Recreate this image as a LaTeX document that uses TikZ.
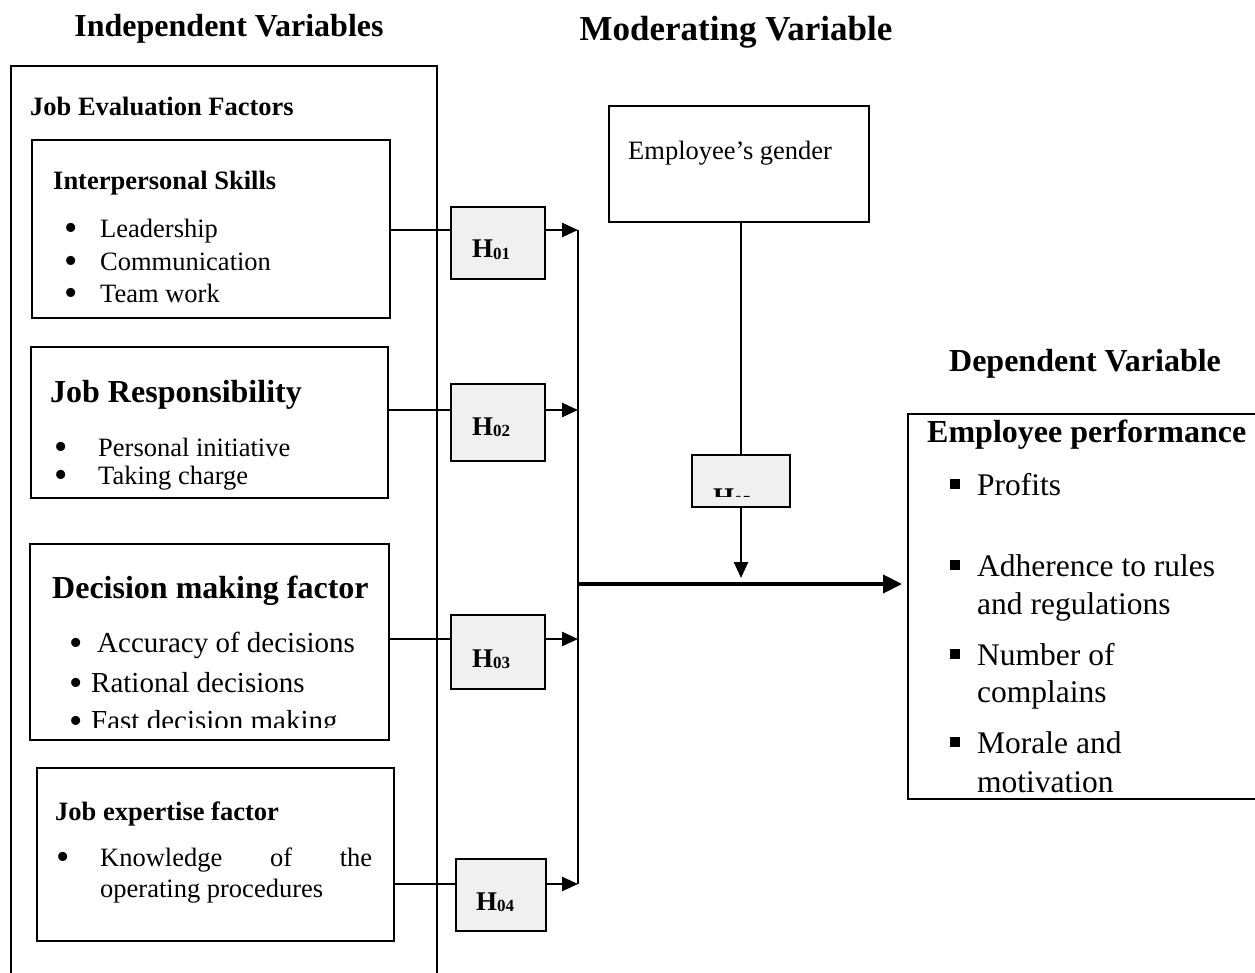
\documentclass[tikz,border=0pt]{standalone}
\usepackage{fontspec}
\setmainfont{Liberation Serif}
\usetikzlibrary{positioning}
\usetikzlibrary{arrows.meta}

\newcommand{\hlab}[1]{\textbf{H{\fontsize{17}{17}\selectfont\raisebox{-1.5pt}{#1}}}}
\newcommand{\bul}[1]{\makebox[#1][l]{\smash{\raisebox{-3pt}{\fontsize{38}{38}\selectfont\textbullet}}}}
\newcommand{\sqbul}{\makebox[27pt][l]{\rule[6pt]{10pt}{10pt}}}

\begin{document}
\begin{tikzpicture}[x=1pt, y=-1pt,
    box/.style={draw, line width=2pt, anchor=north west, inner sep=0pt},
    hyp/.style={box, fill=black!6},
    txt/.style={anchor=base west, inner sep=0pt},
    head/.style={anchor=base, inner sep=0pt, font=\fontsize{32}{38}\selectfont\bfseries},
    sub/.style={txt, font=\fontsize{26.5}{31}\selectfont\bfseries},
    big/.style={txt, font=\fontsize{32}{38}\selectfont\bfseries},
    item/.style={txt, font=\fontsize{26.5}{31}\selectfont},
    ditem/.style={txt, font=\fontsize{31.5}{38}\selectfont},
    hname/.style={txt, font=\fontsize{27}{30}\selectfont\bfseries},
    link/.style={line width=2.5pt},
    arr/.style={line width=2.5pt, -{Triangle[length=16pt,width=14pt]}},
    mainarr/.style={line width=4pt, -{Triangle[length=19pt,width=18pt]}}
  ]
  \useasboundingbox (0,0) rectangle (1255,973);

  % Headings
  \node[head] (indep) at (229,37) {Independent Variables};
  \node[head, font=\fontsize{35}{40}\selectfont\bfseries] (moder) at (736,41) {Moderating Variable};
  \node[head] (depen) at (1085,371) {Dependent Variable};

  % Frame of the independent variables (runs off the page)
  \node[box, minimum width=426pt, minimum height=940pt] (frame) at (10,65) {};
  \node[sub] (jef) at (30,116) {Job Evaluation Factors};

  % Interpersonal skills
  \node[box, minimum width=358pt, minimum height=178pt] (skills) at (31,139) {};
  \node[sub] (skillsT) at (53,190) {Interpersonal Skills};
  \node[item] (lead) at (64,238) {\bul{36pt}Leadership};
  \node[item] (comm) at (64,271) {\bul{36pt}Communication};
  \node[item] (team) at (64,303) {\bul{36pt}Team work};

  % Job responsibility
  \node[box, minimum width=357pt, minimum height=151pt] (resp) at (30,346) {};
  \node[big] (respT) at (50,402) {Job Responsibility};
  \node[item] (init) at (54,456) {\bul{44pt}Personal initiative};
  \node[item] (charge) at (54,484) {\bul{44pt}Taking charge};

  % Decision making
  \node[box, minimum width=359pt, minimum height=196pt] (dec) at (29,543) {};
  \node[big] (decT) at (52,598) {Decision making factor};
  \node[item, font=\fontsize{29}{34}\selectfont] (acc) at (69,652) {\bul{28pt}Accuracy of decisions};
  \node[item, font=\fontsize{29}{34}\selectfont] (rat) at (69,692) {\bul{22pt}Rational decisions};
  \begin{scope}
    \clip (dec.north west) rectangle (dec.east |- 0,727);
    \node[item, font=\fontsize{29}{34}\selectfont] (fast) at (69,730) {\bul{22pt}Fast decision making};
  \end{scope}

  % Job expertise
  \node[box, minimum width=357pt, minimum height=173pt] (exp) at (36,767) {};
  \node[sub] (expT) at (55,820) {Job expertise factor};
  \node[item] (know) at (56,866) {\bul{44pt}\makebox[272pt][s]{Knowledge of the}};
  \node[item] (oper) at (100,897) {operating procedures};

  % Hypotheses
  \node[hyp, minimum width=94pt, minimum height=72pt] (h1) at (450,206) {};
  \node[hyp, minimum width=94pt, minimum height=77pt] (h2) at (450,383) {};
  \node[hyp, minimum width=94pt, minimum height=74pt] (h3) at (450,614) {};
  \node[hyp, minimum width=90pt, minimum height=72pt] (h4) at (455,858) {};
  \node[hname] (h1T) at (472,258) {\hlab{01}};
  \node[hname] (h2T) at (472,435) {\hlab{02}};
  \node[hname] (h3T) at (472,667) {\hlab{03}};
  \node[hname] (h4T) at (476,910) {\hlab{04}};

  % Moderating variable
  \node[box, minimum width=260pt, minimum height=116pt] (gender) at (608,105) {};
  \node[item] (genderT) at (628,160) {Employee’s gender};
  \node[hyp, minimum width=98pt, minimum height=52pt] (h5) at (691,454) {};
  \begin{scope}
    \clip (h5.north west) rectangle (h5.east |- 0,496);
    \node[hname] (h5T) at (713,506) {\hlab{05}};
  \end{scope}

  % Dependent variable
  \node[box, minimum width=360pt, minimum height=385pt] (perf) at (907,413) {};
  \node[big] (perfT) at (927,442) {Employee performance};
  \node[ditem] (prof) at (950,495) {\sqbul Profits};
  \node[ditem] (adh) at (950,576) {\sqbul Adherence to rules};
  \node[ditem] (adh2) at (977,614) {and regulations};
  \node[ditem] (num) at (950,665) {\sqbul Number of};
  \node[ditem] (num2) at (977,702) {complains};
  \node[ditem] (mor) at (950,753) {\sqbul Morale and};
  \node[ditem] (mor2) at (977,792) {motivation};

  % Connectors
  \coordinate (busTop) at (578,230);
  \coordinate (busBot) at (578,884);
  \coordinate (jn) at (578,584);
  \coordinate (r2) at (0,410);
  \coordinate (r3) at (0,639);
  \draw[link] (busTop) -- (busBot);
  \draw[link] (skills.east |- busTop) -- (h1.west |- busTop);
  \draw[arr] (h1.east |- busTop) -- (busTop);
  \draw[link] (resp.east |- r2) -- (h2.west |- r2);
  \draw[arr] (h2.east |- r2) -- (busTop |- r2);
  \draw[link] (dec.east |- r3) -- (h3.west |- r3);
  \draw[arr] (h3.east |- r3) -- (busTop |- r3);
  \draw[link] (exp.east |- busBot) -- (h4.west |- busBot);
  \draw[arr] (h4.east |- busBot) -- (busBot);
  \draw[link] (h5.north |- gender.south) -- (h5.north);
  \draw[arr, shorten >=6pt] (h5.south) -- (h5.south |- jn);
  \draw[mainarr, shorten >=5pt] (jn) -- (perf.west |- jn);
\end{tikzpicture}
\end{document}
